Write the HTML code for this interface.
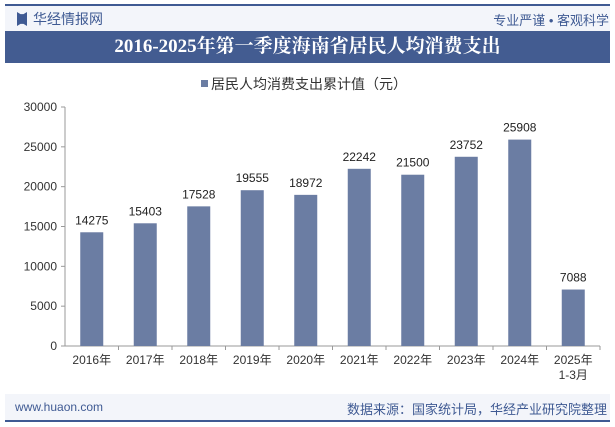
<!DOCTYPE html>
<html><head><meta charset="utf-8"><style>
body{margin:0;width:615px;height:427px;background:#fff;font-family:"Liberation Sans","Noto Sans CJK SC",sans-serif;overflow:hidden;position:relative}
.abs{position:absolute}
</style></head><body>
<div class="abs" style="left:5px;top:4px;width:605px;height:27px;background:#f3f5fa;border-top:2px solid #3f5a93"></div>
<div class="abs" style="left:17px;top:12px;width:10px;height:14px;background:#3f5a93;clip-path:polygon(0 0,35% 15%,65% 15%,100% 0,100% 100%,65% 85%,35% 85%,0 100%)"></div>
<div class="abs" style="left:33px;top:9px;font-size:14px;color:#3f5a93">华经情报网</div>
<div class="abs" style="right:6px;top:10px;font-size:13px;color:#3f5a93">专业严谨 • 客观科学</div>
<div class="abs" style="left:5px;top:31px;width:605px;height:32px;background:#435c91;color:#fff;font-family:'Liberation Serif','Noto Serif CJK SC',serif;font-weight:bold;font-size:19px;text-align:center;line-height:32px">2016-2025年第一季度海南省居民人均消费支出</div>
<div class="abs" style="left:201px;top:74px;font-size:14px;color:#333"><span style="display:inline-block;width:7px;height:7px;background:#6b7da3;margin-right:3px;vertical-align:2px"></span>居民人均消费支出累计值（元）</div>
<svg class="abs" style="left:0;top:0" width="615" height="427" id="chart"></svg>
<div class="abs" style="left:5px;top:394px;width:605px;height:26px;background:#f3f5fa;border-bottom:2px solid #3f5a93"></div>
<div class="abs" style="left:15px;top:400px;font-size:12px;color:#3f5a93">www.huaon.com</div>
<div class="abs" style="right:8px;top:399px;font-size:13px;color:#3f5a93">数据来源：国家统计局，华经产业研究院整理</div>
<script>
const categories=["2016年","2017年","2018年","2019年","2020年","2021年","2022年","2023年","2024年","2025年"];
const subLabels=["","","","","","","","","","1-3月"];
const values=[14275,15403,17528,19555,18972,22242,21500,23752,25908,7088];
const yTicks=[0,5000,10000,15000,20000,25000,30000];
const svg=document.getElementById('chart');const NS='http://www.w3.org/2000/svg';
const x0=65,x1=600,y0=346,yTop=107,yMax=30000;
const y=v=>y0-(v/yMax)*(y0-yTop);
const bw=(x1-x0)/categories.length;
function mk(t,a,txt){const e=document.createElementNS(NS,t);for(const k in a)e.setAttribute(k,a[k]);if(txt!==undefined)e.textContent=txt;svg.appendChild(e);return e;}
let ax=mk('line',{x1:x0,y1:yTop,x2:x0,y2:y0,stroke:'#999'});

let bx=mk('line',{x1:x0,y1:y0,x2:x1,y2:y0,stroke:'#999'});

yTicks.forEach(t=>{mk('line',{x1:x0-4,y1:y(t),x2:x0,y2:y(t),stroke:'#999'});
let l=mk('text',{x:x0-8,y:y(t)+4,'text-anchor':'end','font-size':12,fill:'#333'},t);
});
categories.forEach((c,i)=>{const cx=x0+bw*(i+0.5);
mk('line',{x1:x0+bw*(i+1),y1:y0,x2:x0+bw*(i+1),y2:y0+4,stroke:'#999'});
let b=mk('rect',{x:cx-11.5,y:y(values[i]),width:23,height:y0-y(values[i]),fill:'#6b7da3'});

let v=mk('text',{x:cx,y:y(values[i])-8,'text-anchor':'middle','font-size':12,fill:'#222'},values[i]);

let l=mk('text',{x:cx,y:y0+18,'text-anchor':'middle','font-size':12,fill:'#333'},c);

if(subLabels[i]){let s=mk('text',{x:cx,y:y0+33,'text-anchor':'middle','font-size':12,fill:'#333'},subLabels[i]);
}});
</script>
</body></html>
